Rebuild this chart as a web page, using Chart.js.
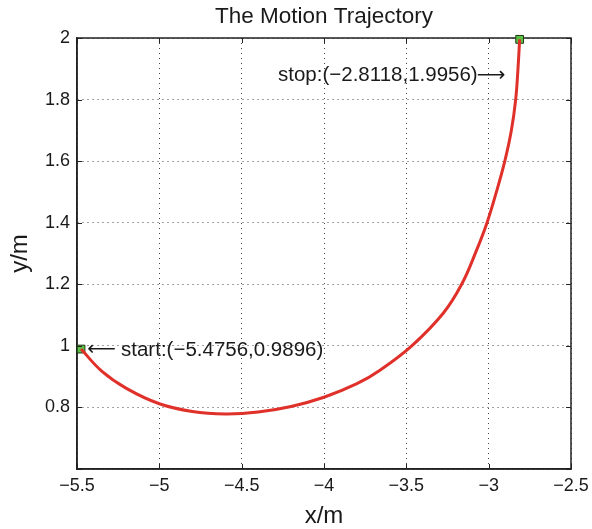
<!DOCTYPE html>
<html>
<head>
<meta charset="utf-8">
<script src="https://cdn.jsdelivr.net/npm/chart.js@4"></script>
<style>
  html, body { margin: 0; padding: 0; background: #fff; }
  #wrap { width: 592px; height: 529px; }
</style>
</head>
<body>
<div id="wrap"><canvas id="trajChart" width="592" height="529"></canvas></div>
<script>
// trajectory
const pathX = [-5.4756, -5.35, -5.20, -5.00, -4.80, -4.60, -4.40, -4.20, -4.00, -3.80, -3.66, -3.467, -3.276, -3.164, -3.074, -3.01, -2.953, -2.902, -2.862, -2.836, -2.822, -2.8118];
const pathY = [0.9896, 0.918, 0.862, 0.812, 0.787, 0.779, 0.785, 0.803, 0.833, 0.877, 0.921, 1.000, 1.106, 1.200, 1.310, 1.400, 1.500, 1.600, 1.700, 1.800, 1.900, 1.9956];
const endX = [-5.4756, -2.8118];
const endY = [0.9896, 1.9956];
const xTicks = [-5.5, -5, -4.5, -4, -3.5, -3, -2.5];
const yTicks = [0.6, 0.8, 1, 1.2, 1.4, 1.6, 1.8, 2];

const FONT = "'Liberation Sans', Arial, Helvetica, sans-serif";
const ARROW_FONT = "'DejaVu Sans', sans-serif";
const minus = s => String(s).replace(/-/g, '\u2212');

// title, axis names, annotations, inward ticks
const decor = {
    id: 'decor',
    afterDraw(chart) {
        const { ctx, chartArea: a, scales: { x, y } } = chart;
        ctx.save();
        ctx.strokeStyle = '#222';
        ctx.lineWidth = 1;
        xTicks.forEach(v => {
            const px = Math.round(x.getPixelForValue(v)) + 0.5;
            ctx.beginPath();
            ctx.moveTo(px, a.bottom); ctx.lineTo(px, a.bottom - 5);
            ctx.moveTo(px, a.top); ctx.lineTo(px, a.top + 5);
            ctx.stroke();
        });
        yTicks.forEach(v => {
            const py = Math.round(y.getPixelForValue(v)) + 0.5;
            ctx.beginPath();
            ctx.moveTo(a.left, py); ctx.lineTo(a.left + 5, py);
            ctx.moveTo(a.right, py); ctx.lineTo(a.right - 5, py);
            ctx.stroke();
        });

        ctx.fillStyle = '#1a1a1a';
        ctx.font = '22.5px ' + FONT;
        ctx.textAlign = 'center';
        ctx.textBaseline = 'middle';
        ctx.fillText('The Motion Trajectory', (a.left + a.right) / 2, 17);

        ctx.font = '24px ' + FONT;
        ctx.fillText('x/m', (a.left + a.right) / 2, 516);
        ctx.save();
        ctx.translate(20, (a.top + a.bottom) / 2);
        ctx.rotate(-Math.PI / 2);
        ctx.fillText('y/m', 0, 0);
        ctx.restore();

        // stop label
        const sx = x.getPixelForValue(endX[1]), sy = y.getPixelForValue(endY[1]);
        ctx.font = '20.5px ' + FONT;
        ctx.textAlign = 'right';
        ctx.fillText('stop:(' + minus(endX[1]) + ',' + endY[1] + ')', sx - 42, sy + 36);
        ctx.font = '20px ' + ARROW_FONT;
        ctx.textAlign = 'left';
        ctx.fillText('\u27F6', sx - 43, sy + 36);

        // start label
        const bx = x.getPixelForValue(endX[0]), by = y.getPixelForValue(endY[0]);
        ctx.font = '20.5px ' + FONT;
        ctx.fillText('start:(' + minus(endX[0]) + ',' + endY[0] + ')', bx + 40, by + 1);
        ctx.font = '20px ' + ARROW_FONT;
        ctx.textAlign = 'right';
        ctx.fillText('\u27F5', bx + 35, by + 1);
        ctx.restore();
    }
};

new Chart(document.getElementById('trajChart'), {
    type: 'scatter',
    data: {
        datasets: [{
            data: pathX.map((v, i) => ({ x: v, y: pathY[i] })),
            showLine: true,
            borderColor: '#e0302a',
            borderWidth: 3,
            pointRadius: 0,
            tension: 0.4,
            clip: false
        }, {
            data: endX.map((v, i) => ({ x: v, y: endY[i] })),
            showLine: false,
            pointStyle: 'rect',
            pointRadius: 5.5,
            backgroundColor: '#5cc246',
            borderColor: '#1e3a14',
            borderWidth: 1,
            clip: false
        }]
    },
    options: {
        responsive: false,
        animation: false,
        layout: { padding: { top: 38, right: 21, left: 0, bottom: 0 } },
        plugins: { legend: { display: false }, tooltip: { enabled: false }, title: { display: false } },
        scales: {
            x: {
                type: 'linear', min: -5.5, max: -2.5,
                afterBuildTicks: s => { s.ticks = xTicks.map(v => ({ value: v })); },
                afterFit: s => { s.height = 60; s.paddingLeft = 0; s.paddingRight = 0; },
                ticks: {
                    color: '#1a1a1a', font: { family: FONT, size: 18 }, padding: 6,
                    callback: v => minus(v)
                },
                grid: { color: '#444', lineWidth: 1, drawTicks: false },
                border: { display: true, color: '#222', width: 1.5, dash: [1, 4] }
            },
            y: {
                type: 'linear', min: 0.6, max: 2,
                afterBuildTicks: s => { s.ticks = yTicks.map(v => ({ value: v })); },
                afterFit: s => { s.width = 77; s.paddingTop = 0; s.paddingBottom = 0; },
                ticks: {
                    color: '#1a1a1a', font: { family: FONT, size: 18 }, padding: 7,
                    callback: v => (v === 0.6 ? '' : String(Number(v.toFixed(1))))
                },
                grid: { color: '#444', lineWidth: 1, drawTicks: false },
                border: { display: true, color: '#222', width: 1.5, dash: [1, 4] }
            }
        }
    },
    plugins: [decor, {
        id: 'frame',
        beforeDatasetsDraw(chart) {
            const { ctx, chartArea: a } = chart;
            ctx.save();
            ctx.strokeStyle = '#222';
            ctx.lineWidth = 1.5;
            ctx.strokeRect(a.left, a.top, a.right - a.left, a.bottom - a.top);
            ctx.restore();
        }
    }]
});
</script>
</body>
</html>
